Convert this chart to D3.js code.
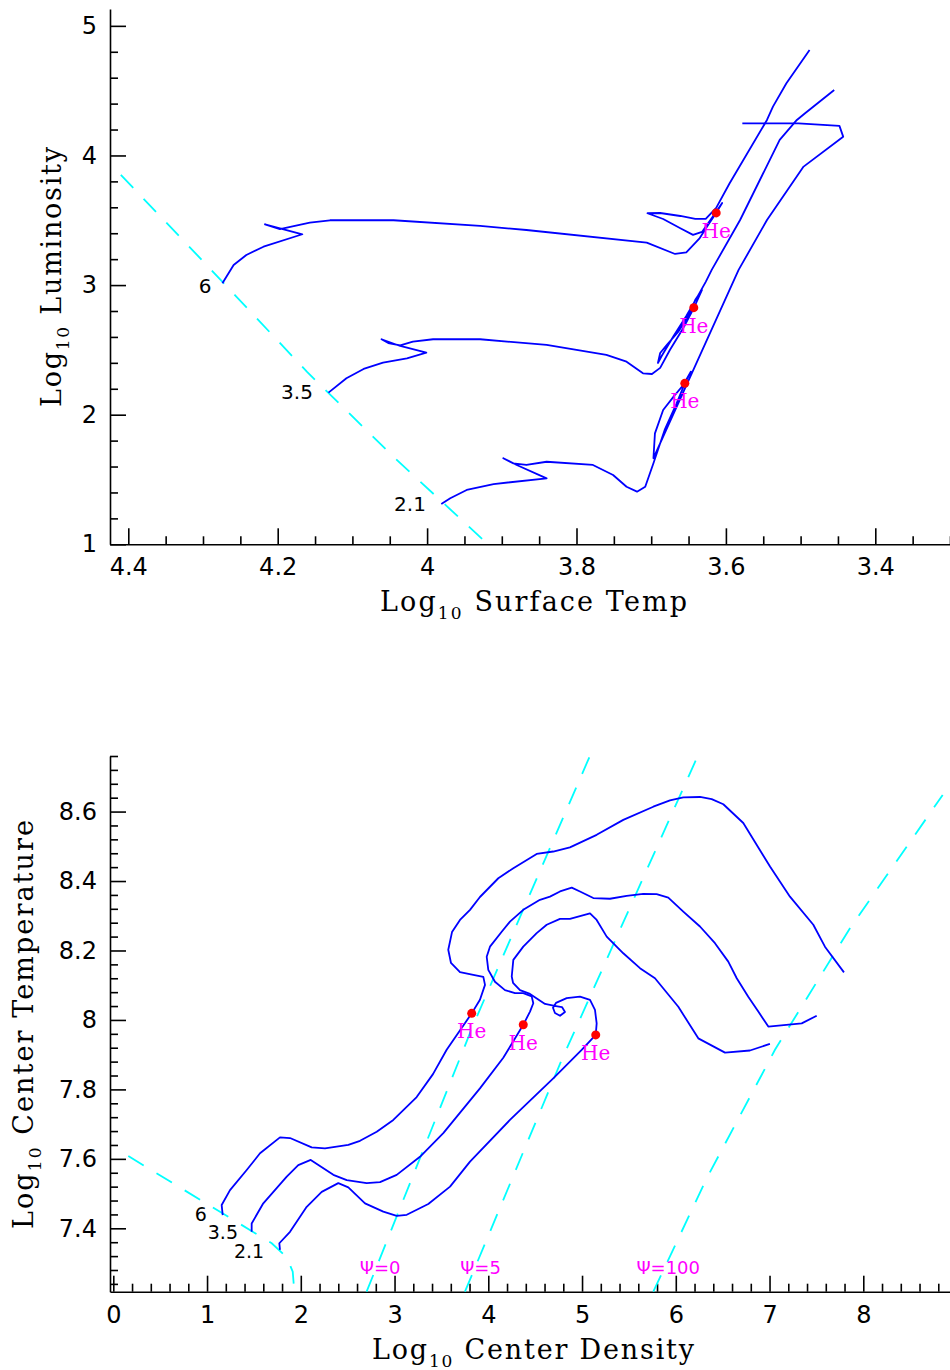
<!DOCTYPE html>
<html>
<head>
<meta charset="utf-8">
<script src="https://cdn.jsdelivr.net/npm/d3@7"></script>
<style>
  body { margin: 0; background: #fff; }
  svg { display: block; }
</style>
</head>
<body>
<div id="chart"></div>
<script>
// ---- HR diagram tracks: [log Teff, log L] ----
const hr6 = [[4.274,3.014],[4.259,3.155],[4.242,3.232],[4.219,3.296],[4.167,3.392],[4.217,3.469],[4.197,3.431],[4.157,3.481],[4.130,3.500],[4.045,3.500],[3.929,3.456],[3.867,3.425],[3.706,3.327],[3.668,3.240],[3.653,3.253],[3.635,3.363],[3.623,3.471],[3.613,3.557],[3.605,3.633],[3.617,3.533],[3.632,3.410],[3.644,3.387],[3.661,3.438],[3.684,3.510],[3.705,3.554],[3.688,3.556],[3.661,3.533],[3.641,3.510],[3.627,3.510],[3.613,3.596],[3.595,3.786],[3.545,4.274],[3.537,4.377],[3.519,4.557],[3.488,4.814]];
const hr35 = [[4.132,2.170],[4.108,2.281],[4.085,2.353],[4.059,2.401],[4.027,2.435],[4.001,2.478],[4.036,2.530],[4.061,2.582],[4.052,2.553],[4.036,2.534],[4.019,2.563],[3.992,2.582],[3.929,2.582],[3.840,2.538],[3.760,2.461],[3.733,2.409],[3.711,2.319],[3.699,2.314],[3.688,2.361],[3.675,2.499],[3.657,2.669],[3.643,2.823],[3.632,2.962],[3.641,2.886],[3.651,2.754],[3.664,2.638],[3.679,2.538],[3.688,2.476],[3.691,2.399],[3.686,2.453],[3.670,2.607],[3.653,2.762],[3.639,2.901],[3.627,3.025],[3.619,3.117],[3.581,3.502],[3.528,4.120],[3.505,4.274],[3.494,4.326],[3.455,4.505]];
const hr21 = [[3.981,1.311],[3.969,1.355],[3.947,1.419],[3.911,1.465],[3.840,1.509],[3.880,1.612],[3.898,1.664],[3.885,1.625],[3.867,1.612],[3.840,1.637],[3.778,1.612],[3.751,1.535],[3.733,1.444],[3.719,1.406],[3.708,1.444],[3.697,1.625],[3.682,1.882],[3.666,2.088],[3.655,2.242],[3.647,2.332],[3.657,2.229],[3.670,2.139],[3.684,2.036],[3.695,1.856],[3.697,1.664],[3.583,3.117],[3.545,3.502],[3.496,3.914],[3.443,4.145],[3.448,4.228],[3.503,4.248],[3.578,4.248]];
const hrZams = [[4.410,3.850],[4.293,3.142],[4.161,2.332],[4.043,1.664],[3.9185,1.0]];
const hrHe = [[3.613,3.557],[3.643,2.826],[3.655,2.242]];
const hrMassLabels = [['6',4.2973,2.993],['3.5',4.1742,2.175],['2.1',4.0229,1.311]];

// ---- center tracks: [log rho_c, log T_c] ----
const rc6 = [[1.167,7.438],[1.156,7.467],[1.245,7.510],[1.423,7.568],[1.565,7.616],[1.778,7.662],[1.885,7.660],[2.116,7.633],[2.258,7.630],[2.507,7.640],[2.632,7.652],[2.810,7.678],[2.987,7.712],[3.236,7.778],[3.410,7.844],[3.556,7.914],[3.823,8.019],[3.911,8.058],[3.965,8.101],[3.947,8.124],[3.840,8.130],[3.698,8.138],[3.602,8.164],[3.573,8.202],[3.613,8.253],[3.698,8.288],[3.805,8.317],[3.911,8.354],[4.107,8.408],[4.267,8.437],[4.516,8.478],[4.693,8.485],[4.871,8.497],[5.156,8.533],[5.440,8.576],[5.760,8.614],[5.938,8.632],[6.080,8.641],[6.258,8.642],[6.383,8.636],[6.507,8.621],[6.720,8.567],[7.005,8.442],[7.218,8.355],[7.467,8.274],[7.591,8.211],[7.794,8.137]];
const rc35 = [[1.476,7.390],[1.476,7.414],[1.600,7.472],[1.850,7.549],[1.973,7.582],[2.106,7.597],[2.347,7.554],[2.490,7.539],[2.703,7.530],[2.845,7.533],[3.023,7.554],[3.271,7.606],[3.520,7.674],[3.911,7.803],[4.160,7.891],[4.373,7.986],[4.445,8.024],[4.480,8.048],[4.463,8.068],[4.373,8.077],[4.285,8.077],[4.178,8.086],[4.071,8.110],[4.000,8.144],[3.983,8.182],[4.018,8.211],[4.143,8.254],[4.231,8.283],[4.373,8.317],[4.551,8.346],[4.658,8.355],[4.765,8.370],[4.890,8.381],[4.978,8.370],[5.120,8.351],[5.298,8.349],[5.476,8.357],[5.653,8.363],[5.796,8.362],[5.920,8.352],[6.080,8.312],[6.258,8.269],[6.418,8.221],[6.560,8.168],[6.650,8.120],[6.773,8.067],[6.880,8.024],[6.987,7.981],[7.343,7.990],[7.503,8.012]];
const rc21 = [[1.778,7.338],[1.771,7.357],[1.885,7.390],[2.063,7.462],[2.223,7.505],[2.400,7.530],[2.507,7.518],[2.685,7.472],[2.880,7.448],[3.023,7.436],[3.130,7.439],[3.360,7.470],[3.592,7.520],[3.805,7.592],[4.231,7.712],[4.693,7.832],[4.996,7.914],[5.146,7.957],[5.156,7.990],[5.138,8.029],[5.085,8.058],[4.978,8.067],[4.836,8.063],[4.722,8.049],[4.690,8.035],[4.711,8.020],[4.765,8.012],[4.818,8.023],[4.786,8.037],[4.722,8.040],[4.605,8.046],[4.445,8.075],[4.338,8.086],[4.264,8.107],[4.250,8.125],[4.267,8.173],[4.373,8.211],[4.516,8.250],[4.623,8.274],[4.765,8.291],[4.871,8.291],[5.085,8.307],[5.156,8.288],[5.263,8.240],[5.440,8.192],[5.618,8.149],[5.778,8.120],[6.027,8.038],[6.240,7.947],[6.525,7.906],[6.791,7.912],[7.004,7.931]];
const rcZams = [[0.160,7.608],[1.690,7.357],[1.850,7.317],[1.914,7.275],[1.931,7.2175]];
const psi0 = [[2.702,7.2175],[3.840,7.986],[5.085,8.761]];
const psi5 = [[3.751,7.2175],[4.783,7.885],[6.234,8.760]];
const psi100 = [[5.760,7.2175],[6.330,7.544],[7.058,7.914],[7.858,8.264],[8.847,8.648]];
const rcHe = [[3.823,8.019],[4.373,7.986],[5.146,7.957]];
const rcMassLabels = [['6',0.932,7.442],['3.5',1.169,7.389],['2.1',1.448,7.335]];
const psiLabels = [['\u03A8=0',2.63,7.287],['\u03A8=5',3.70,7.287],['\u03A8=100',5.58,7.287]];

// tick values
const topXMajor = [4.4, 4.2, 4.0, 3.8, 3.6, 3.4];
const topYMajor = [1, 2, 3, 4, 5];
const botXMajor = [0, 1, 2, 3, 4, 5, 6, 7, 8];
const botYMajor = [7.4, 7.6, 7.8, 8.0, 8.2, 8.4, 8.6];

const width = 950, height = 1370;
const BLUE = '#0000ff', CYAN = '#00ffff', MAGENTA = '#ff00ff';
const SANS = 'DejaVu Sans, sans-serif', SERIF = 'DejaVu Serif, serif';

const svg = d3.select('#chart').append('svg')
    .attr('width', width)
    .attr('height', height)
    .style('background', '#fff');

// Scales
const topX = d3.scaleLinear().domain([4.4245, 3.3]).range([110, 950]);
const topY = d3.scaleLinear().domain([1, 5.13]).range([544.3, 9]);
const botX = d3.scaleLinear().domain([-0.0352, 8.925]).range([110, 950]);
const botY = d3.scaleLinear().domain([7.2175, 8.76]).range([1291.7, 756]);

function minorTicks(scale, step, majorStep) {
    const [a, b] = d3.extent(scale.domain());
    const out = [];
    for (let i = Math.ceil(a / step - 1e-6); i * step <= b + 1e-6; i++) {
        const v = +(i * step).toFixed(6);
        const r = v / majorStep;
        if (Math.abs(r - Math.round(r)) > 1e-6) out.push(v);
    }
    return out;
}

const fmt = d => String(+d.toFixed(1));

function drawAxes(x, y, xMajor, xMinorStep, xMajorStep, yMajor, yMinorStep, yMajorStep) {
    const x0 = x.range()[0];
    const y0 = y.range()[0];

    const gx = svg.append('g').attr('transform', `translate(0,${y0})`);
    gx.call(d3.axisBottom(x).tickValues(xMajor).tickSize(-16).tickSizeOuter(0)
        .tickPadding(14).tickFormat(fmt));
    gx.append('g').call(d3.axisBottom(x).tickValues(minorTicks(x, xMinorStep, xMajorStep))
        .tickSize(-8).tickFormat(''))
        .select('.domain').remove();

    const gy = svg.append('g').attr('transform', `translate(${x0},0)`);
    gy.call(d3.axisLeft(y).tickValues(yMajor).tickSize(-16).tickSizeOuter(0)
        .tickPadding(13).tickFormat(fmt));
    gy.append('g').call(d3.axisLeft(y).tickValues(minorTicks(y, yMinorStep, yMajorStep))
        .tickSize(-8).tickFormat(''))
        .select('.domain').remove();

    [gx, gy].forEach(g => {
        g.selectAll('path, line').attr('stroke', '#000').attr('stroke-width', 1.6);
        g.selectAll('text')
            .attr('fill', '#000')
            .attr('font-family', SANS)
            .attr('font-size', 24);
    });
}

function axisTitle(x, y, rotate, sub, rest, length) {
    const t = svg.append('text')
        .attr('transform', `translate(${x},${y})` + (rotate ? ' rotate(-90)' : ''))
        .attr('text-anchor', 'middle')
        .attr('font-family', SERIF)
        .attr('font-size', 27)
        .attr('fill', '#000')
        .attr('textLength', length)
        .attr('lengthAdjust', 'spacing');
    t.append('tspan').text('Log');
    t.append('tspan').attr('font-size', 17).attr('dy', 8).text(sub);
    t.append('tspan').attr('dy', -8).text(rest);
}

function drawPanel(x, y, tracks, dashed, dots, massLabels, massSize) {
    const line = d3.line().x(d => x(d[0])).y(d => y(d[1]));

    dashed.forEach(pts => {
        svg.append('path')
            .attr('d', line(pts))
            .attr('fill', 'none')
            .attr('stroke', CYAN)
            .attr('stroke-width', 1.8)
            .attr('stroke-dasharray', '18,15');
    });

    tracks.forEach(pts => {
        svg.append('path')
            .attr('d', line(pts))
            .attr('fill', 'none')
            .attr('stroke', BLUE)
            .attr('stroke-width', 1.8)
            .attr('stroke-linejoin', 'round');
    });

    svg.append('g').selectAll('circle')
        .data(dots)
        .enter()
        .append('circle')
        .attr('cx', d => x(d[0]))
        .attr('cy', d => y(d[1]))
        .attr('r', 4.5)
        .attr('fill', '#ff0000');

    svg.append('g').selectAll('text')
        .data(dots)
        .enter()
        .append('text')
        .attr('x', d => x(d[0]))
        .attr('y', d => y(d[1]) + 25)
        .attr('text-anchor', 'middle')
        .attr('font-family', SERIF)
        .attr('font-size', 20)
        .attr('fill', MAGENTA)
        .text('He');

    svg.append('g').selectAll('text')
        .data(massLabels)
        .enter()
        .append('text')
        .attr('x', d => x(d[1]))
        .attr('y', d => y(d[2]))
        .attr('dy', '0.36em')
        .attr('text-anchor', 'middle')
        .attr('font-family', SANS)
        .attr('font-size', massSize)
        .attr('fill', '#000')
        .text(d => d[0]);
}

// Top panel: HR diagram
drawAxes(topX, topY, topXMajor, 0.05, 0.2, topYMajor, 0.2, 1);
drawPanel(topX, topY, [hr6, hr35, hr21], [hrZams], hrHe, hrMassLabels, 20);
axisTitle(533.5, 611, false, '10', ' Surface Temp', 307);
axisTitle(61, 277, true, '10', ' Luminosity', 260);

// Bottom panel: center density vs center temperature
drawAxes(botX, botY, botXMajor, 0.2, 1, botYMajor, 0.04, 0.2);
drawPanel(botX, botY, [rc6, rc35, rc21], [rcZams, psi0, psi5, psi100], rcHe, rcMassLabels, 19);

svg.append('g').selectAll('text')
    .data(psiLabels)
    .enter()
    .append('text')
    .attr('x', d => botX(d[1]))
    .attr('y', d => botY(d[2]))
    .attr('dy', '0.36em')
    .attr('font-family', SANS)
    .attr('font-size', 18)
    .attr('fill', MAGENTA)
    .text(d => d[0]);

axisTitle(533, 1359, false, '10', ' Center Density', 322);
axisTitle(33, 1024.5, true, '10', ' Center Temperature', 409);
</script>
</body>
</html>
